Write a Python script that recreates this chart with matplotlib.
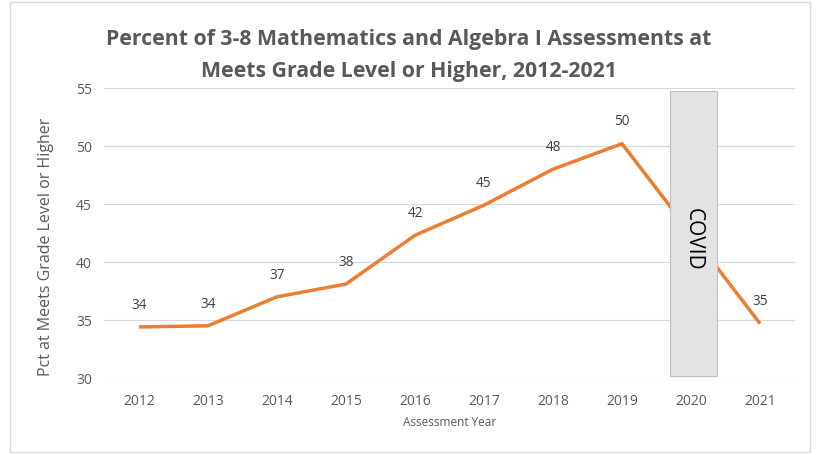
import matplotlib
matplotlib.use("Agg")
import matplotlib.pyplot as plt
from matplotlib.patches import Rectangle

years = [2012, 2013, 2014, 2015, 2016, 2017, 2018, 2019, 2021]
values = [34.4, 34.5, 37.0, 38.1, 42.3, 44.9, 48.0, 50.2, 34.7]
labels = ["34", "34", "37", "38", "42", "45", "48", "50", "35"]
tick_years = [2012, 2013, 2014, 2015, 2016, 2017, 2018, 2019, 2020, 2021]
yticks = [30, 35, 40, 45, 50, 55]

plt.rcParams['font.family'] = ['Open Sans', 'DejaVu Sans']
gray = '#595959'

fig = plt.figure(figsize=(8.19, 4.56), dpi=100)
fig.patches.append(Rectangle((10/819, 3/456), 800/819, 450/456, transform=fig.transFigure,
                             facecolor='none', edgecolor='#d9d9d9', lw=1, zorder=-5))
ax = fig.add_axes([104.5/819, 1-379/456, 690/819, 290/456])
ax.patch.set_alpha(0)
ax.set_xlim(2011.5, 2021.5)
ax.set_ylim(30, 55)
ax.set_yticks(yticks)
ax.set_xticks(tick_years)
ax.set_xticklabels([str(y) for y in tick_years])
ax.grid(axis='y', color='#d9d9d9', lw=0.9)
ax.set_axisbelow(True)
for s in ax.spines.values():
    s.set_visible(False)
ax.tick_params(length=0, colors=gray, labelsize=10)
ax.tick_params(axis='x', pad=11)
ax.tick_params(axis='y', pad=9)

ax.plot(years, values, color='#ED7D31', lw=2.5, zorder=2, solid_capstyle='butt')
for x, v, t in zip(years, values, labels):
    ax.annotate(t, (x, v), xytext=(0, 11), textcoords='offset points',
                ha='center', va='bottom', fontsize=9.8, color='#404040')

rect = Rectangle((2020 - 0.31, 30.2), 0.68, 24.55, facecolor='#e3e3e3',
                 edgecolor='#bfbfbf', lw=0.8, zorder=3)
ax.add_patch(rect)
ax.text(2020.03, 42.0, 'COVID', rotation=-90, ha='center', va='center',
        fontsize=15, color='black', zorder=4)

ax.set_xlabel('Assessment Year', fontsize=8.5, color=gray, labelpad=5)
ax.set_ylabel('Pct at Meets Grade Level or Higher', fontsize=11.5, color=gray)
ax.yaxis.set_label_coords(-50/690, 0.455)

fig.text(0.4995, 1-39/456, 'Percent of 3-8 Mathematics and Algebra I Assessments at',
         ha='center', va='center', fontsize=15.3, fontweight='bold', color=gray)
fig.text(0.4995, 1-71/456, 'Meets Grade Level or Higher, 2012-2021',
         ha='center', va='center', fontsize=15.3, fontweight='bold', color=gray)

fig.savefig('out.png', dpi=100)
